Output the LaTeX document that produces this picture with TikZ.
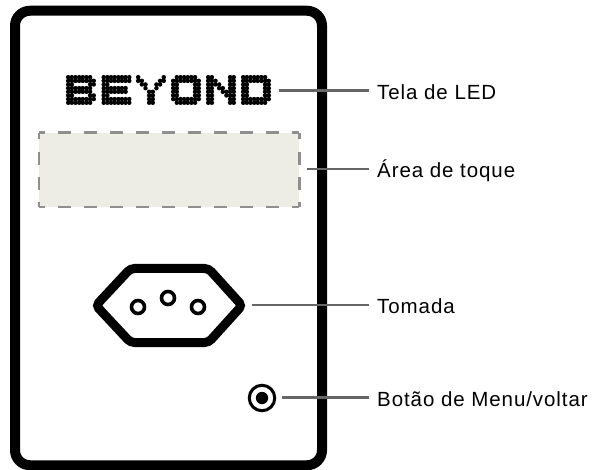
\documentclass[tikz,border=0pt]{standalone}
\usepackage{fontspec}
\setmainfont[LetterSpace=4.5]{Liberation Sans}
\definecolor{leader}{HTML}{666666}
\definecolor{dashgray}{HTML}{8F8F8F}
\definecolor{touch}{HTML}{EDEDE5}
\newcommand{\dotletter}[2]{%
  \foreach \cols [count=\rw from 0] in {#2} {
    \foreach \cl in \cols {
      \fill (#1+\cl*3.65+2.2, 77.2+\rw*3.65) circle (2.25);
    }
  }
}
\tikzset{
  x=1pt,y=-1pt,
  frame/.style={draw=black,line width=10pt,rounded corners=15pt,minimum width=307pt,minimum height=454.5pt,inner sep=0pt},
  leaderline/.style={draw=leader,line width=2.6pt},
  callout/.style={anchor=west,inner xsep=8pt,inner ysep=0pt,text height=22pt,text depth=4pt,font=\fontsize{20.5}{23}\selectfont},
  socket/.style={draw=black,line width=9pt,rounded corners=4pt},
  pin/.style={draw=black,line width=3.6pt,fill=white,circle,minimum size=13pt,inner sep=0pt},
  touchedge/.style={draw=dashgray,line width=2.6pt},
  hdash/.style={touchedge,dash pattern=on 13pt off 13pt,dash phase=6.5pt},
  vdash/.style={touchedge,dash pattern=on 13pt off 12.33pt,dash phase=6.5pt},
}
\begin{document}
\begin{tikzpicture}
\useasboundingbox (0,0) rectangle (597,470);
\node[frame] (case) at (168.5,238) {};
% touch area
\node[fill=touch,minimum width=260pt,minimum height=74pt,inner sep=0pt] (area) at (169,170) {};
\draw[hdash] (area.north west) -- (area.north east);
\draw[hdash] (area.south west) -- (area.south east);
\draw[vdash] (area.north west) -- (area.south west);
\draw[vdash] (area.north east) -- (area.south east);
% LED text
\dotletter{66}{{0,1,2,3,4,5,6},{0,1,2,3,4,5,6,7},{0,1,6,7},{0,1,2,3,4,5,6},{0,1,2,3,4,5,6},{0,1,6,7},{0,1,2,3,4,5,6,7},{0,1,2,3,4,5,6}}
\dotletter{101.5}{{0,1,2,3,4,5,6,7},{0,1,2,3,4,5,6,7},{0,1},{0,1,2,3,4,5,6},{0,1,2,3,4,5,6},{0,1},{0,1,2,3,4,5,6,7},{0,1,2,3,4,5,6,7}}
\dotletter{136}{{0,7},{0,1,6,7},{1,2,5,6},{2,5},{3,4},{3,4},{3,4},{3,4}}
\dotletter{171}{{1,2,3,4,5,6},{0,1,2,3,4,5,6,7},{0,1,6,7},{0,1,6,7},{0,1,6,7},{0,1,6,7},{0,1,2,3,4,5,6,7},{1,2,3,4,5,6}}
\dotletter{206}{{0,1,6,7},{0,1,2,6,7},{0,1,2,3,6,7},{0,1,3,4,6,7},{0,1,4,5,6,7},{0,1,5,6,7},{0,1,6,7},{0,1,6,7}}
\dotletter{241}{{0,1,2,3,4,5,6},{0,1,2,3,4,5,6,7},{0,1,6,7},{0,1,6,7},{0,1,6,7},{0,1,6,7},{0,1,2,3,4,5,6,7},{0,1,2,3,4,5,6}}
% socket
\draw[socket] (130.5,268.5) -- (208.5,268.5) -- (242,305.5) -- (208.5,342.5) -- (130.5,342.5) -- (96,305.5) -- cycle;
\node[pin] (pinl) at (138,307) {};
\node[pin] (pinm) at (168,298) {};
\node[pin] (pinr) at (198,307) {};
% button
\node[circle,draw=black,line width=3pt,minimum size=25.5pt,inner sep=0pt] (button) at (262,398) {};
\fill (button.center) circle (6.2);
% anchors and labels
\coordinate (ledend) at (279,90.3);
\coordinate (areaend) at (307,169);
\coordinate (socketend) at (252,305);
\coordinate (buttonend) at (282,397.7);
\node[callout] (l1) at (369,90.3) {Tela de LED};
\node[callout] (l2) at (369,169) {Área de toque};
\node[callout] (l3) at (369,305) {Tomada};
\node[callout] (l4) at (369,397.7) {Botão de Menu/voltar};
\draw[leaderline] (ledend) -- (l1.west);
\draw[leaderline] (areaend) -- (l2.west);
\draw[leaderline] (socketend) -- (l3.west);
\draw[leaderline] (buttonend) -- (l4.west);
\end{tikzpicture}
\end{document}
